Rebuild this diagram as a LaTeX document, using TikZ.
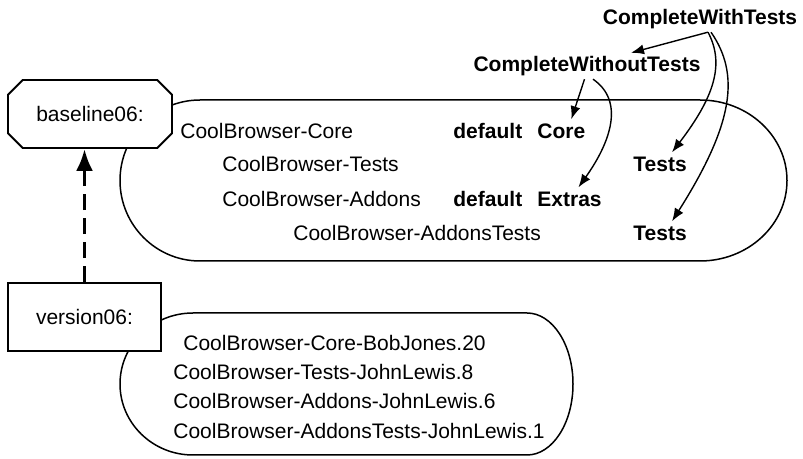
\documentclass[tikz,border=0pt]{standalone}
\usepackage{fontspec}
\setmainfont{Liberation Sans}
\usetikzlibrary{arrows.meta,shapes.misc}

\begin{document}
\begin{tikzpicture}[x=0.5pt,y=-0.5pt,
  font=\fontsize{10.5}{12}\selectfont,
  item/.style={anchor=west, inner xsep=0pt, inner ysep=2pt},
  tag/.style={item, font=\fontsize{10.5}{12}\selectfont\bfseries},
  conf/.style={inner sep=1.5pt, font=\fontsize{10.5}{12}\selectfont\bfseries},
  link/.style={-{Latex[length=6.5pt,width=5pt]}, line width=0.7pt},
  shell/.style={line width=0.75pt}]

  \useasboundingbox (0,0) rectangle (803,459);

  % Package groups
  \draw[shell] (200,100) -- (700,100)
    arc[start angle=-90, end angle=90, x radius=87, y radius=80.5] -- (200,261)
    arc[start angle=90, end angle=270, x radius=80, y radius=80.5] -- cycle;
  \draw[shell] (193,313) -- (527,313)
    arc[start angle=-90, end angle=90, x radius=46, y radius=71] -- (193,455)
    arc[start angle=90, end angle=270, x radius=73, y radius=71] -- cycle;

  % Baseline and version
  \node[draw, fill=white, line width=0.9pt, chamfered rectangle,
    chamfered rectangle xsep=7pt, minimum width=82pt, minimum height=34pt,
    inner sep=0pt] (baseline) at (90,114) {baseline06:};
  \node[draw, fill=white, line width=0.9pt, minimum width=76.5pt,
    minimum height=34pt] (version) at (84.5,317) {version06:};

  \draw[line width=1.8pt, dash pattern=on 8pt off 4pt,
    -{Latex[length=11pt,width=8.5pt]}] (version.north) -- (version.north |- baseline.south);

  % Packages in the baseline
  \node[item] (rcore) at (180,131) {CoolBrowser-Core};
  \node[item] (rtests) at (222,164) {CoolBrowser-Tests};
  \node[item] (raddons) at (222,199) {CoolBrowser-Addons};
  \node[item] (raddtests) at (293,233) {CoolBrowser-AddonsTests};

  \node[tag] (dcore) at (453,131) {default};
  \node[tag] (gcore) at (537,131) {Core};
  \node[tag] (gtests) at (633,164) {Tests};
  \node[tag] (dextras) at (453,199) {default};
  \node[tag] (gextras) at (537,199) {Extras};
  \node[tag] (gaddtests) at (633,233) {Tests};

  % Groups
  \node[conf] (cwt) at (700,19) {CompleteWithTests};
  \node[conf] (cwot) at (587,66) {CompleteWithoutTests};

  \draw[link] ([xshift=4pt]cwt.south) -- ([xshift=22pt]cwot.north);
  \draw[link] ([xshift=4pt]cwt.south) .. controls +(17,32) and +(42,-55) .. ([xshift=6pt]gtests.north);
  \draw[link] ([xshift=5.5pt]cwt.south) .. controls +(29,42) and +(62,-98) .. ([xshift=6pt]gaddtests.north);
  \draw[link] ([xshift=-1.25pt]cwot.south) -- ([xshift=5pt]gcore.north);
  \draw[link] ([xshift=3pt]cwot.south) .. controls +(32,22) and +(32,-45) .. ([xshift=4.5pt]gextras.north);

  % Versions
  \node[item] (vcore) at (183,343) {CoolBrowser-Core-BobJones.20};
  \node[item] (vtests) at (173,372) {CoolBrowser-Tests-JohnLewis.8};
  \node[item] (vaddons) at (173,401) {CoolBrowser-Addons-JohnLewis.6};
  \node[item] (vaddtests) at (173,431) {CoolBrowser-AddonsTests-JohnLewis.1};
\end{tikzpicture}
\end{document}
